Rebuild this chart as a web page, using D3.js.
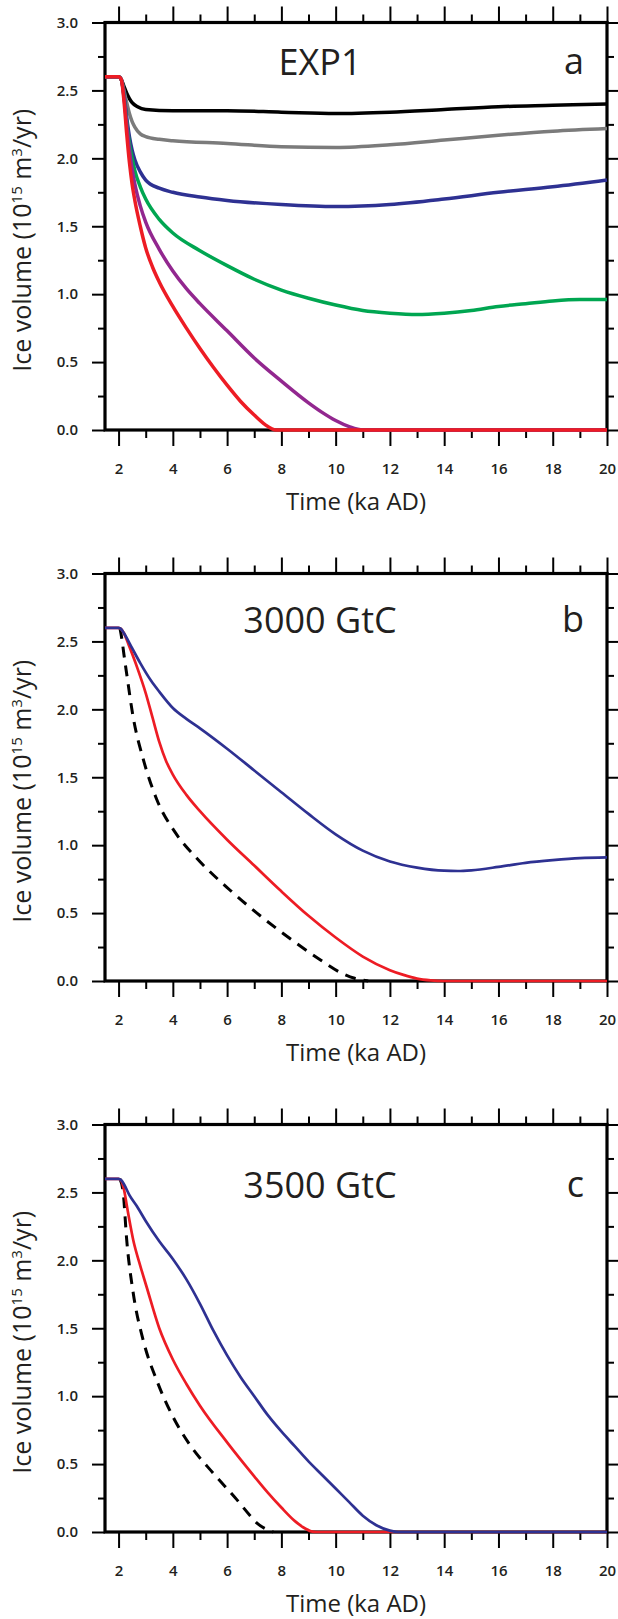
<!DOCTYPE html>
<html>
<head>
<meta charset="utf-8">
<script src="https://cdn.jsdelivr.net/npm/d3@7"></script>
<style>
  html, body { margin: 0; padding: 0; background: #fff; }
  svg { display: block; }
  text { font-family: "Open Sans", "Noto Sans", sans-serif; fill: #231f20; }
</style>
</head>
<body>
<svg id="chart" width="618" height="1619"></svg>
<script>
// ---------- data ----------
const xMajorTicks = [2, 4, 6, 8, 10, 12, 14, 16, 18, 20];
const xMinorTicks = [3, 5, 7, 9, 11, 13, 15, 17, 19];
const yMajorTicks = [0, 0.5, 1.0, 1.5, 2.0, 2.5, 3.0];
const yMinorTicks = [0.25, 0.75, 1.25, 1.75, 2.25, 2.75];

const panelTitles = ["EXP1", "3000 GtC", "3500 GtC"];
const panelLetters = ["a", "b", "c"];

// Panel a
const aBlackT = [1.5, 2.0, 2.1, 2.2, 2.3, 2.4, 2.5, 2.7, 3, 4, 6, 8, 10, 12, 14, 16, 18, 20];
const aBlackV = [2.6, 2.6, 2.58, 2.53, 2.48, 2.44, 2.41, 2.38, 2.36, 2.35, 2.35, 2.34, 2.33, 2.34, 2.36, 2.38, 2.39, 2.40];
const aGrayT = [1.5, 2.0, 2.1, 2.2, 2.3, 2.4, 2.5, 2.6, 2.8, 3, 3.5, 4, 6, 8, 10, 12, 14, 16, 18, 20];
const aGrayV = [2.6, 2.6, 2.58, 2.50, 2.41, 2.33, 2.27, 2.23, 2.18, 2.16, 2.14, 2.13, 2.11, 2.085, 2.08, 2.10, 2.135, 2.17, 2.20, 2.22];
const aBlueT = [1.5, 2.0, 2.1, 2.2, 2.3, 2.4, 2.5, 2.6, 2.8, 3, 3.5, 4, 5, 6, 8, 10, 12, 14, 16, 18, 20];
const aBlueV = [2.6, 2.6, 2.58, 2.47, 2.30, 2.16, 2.06, 1.99, 1.90, 1.84, 1.78, 1.75, 1.715, 1.69, 1.66, 1.645, 1.66, 1.70, 1.75, 1.79, 1.84];
const aGreenT = [1.5, 2.0, 2.1, 2.2, 2.3, 2.4, 2.5, 2.6, 2.8, 3, 3.5, 4, 5, 6, 7, 8, 9, 10, 11, 12, 13, 14, 15, 16, 17, 18, 19, 20];
const aGreenV = [2.6, 2.6, 2.58, 2.46, 2.27, 2.11, 2.00, 1.91, 1.79, 1.70, 1.55, 1.45, 1.32, 1.21, 1.11, 1.03, 0.97, 0.92, 0.88, 0.86, 0.85, 0.86, 0.88, 0.91, 0.93, 0.95, 0.96, 0.96];
const aPurpleT = [1.5, 2.0, 2.1, 2.2, 2.3, 2.4, 2.5, 2.6, 2.8, 3.0, 3.5, 4, 4.5, 5, 6, 7, 8, 9, 9.5, 10, 10.5, 11, 20];
const aPurpleV = [2.6, 2.6, 2.58, 2.45, 2.25, 2.06, 1.92, 1.81, 1.65, 1.53, 1.33, 1.17, 1.04, 0.93, 0.73, 0.53, 0.36, 0.20, 0.13, 0.07, 0.025, 0, 0];
const aRedT = [1.5, 2.0, 2.1, 2.2, 2.3, 2.4, 2.5, 2.6, 2.8, 3.0, 3.25, 3.5, 4, 4.5, 5, 5.5, 6, 6.5, 7, 7.4, 7.8, 20];
const aRedV = [2.6, 2.6, 2.58, 2.42, 2.18, 1.97, 1.81, 1.69, 1.50, 1.34, 1.20, 1.09, 0.91, 0.75, 0.60, 0.46, 0.33, 0.21, 0.11, 0.04, 0, 0];

// Panel b
const bBlueT = [1.5, 2.0, 2.1, 2.2, 2.5, 2.8, 3.2, 3.5, 4, 4.5, 5, 6, 7, 8, 9, 10, 11, 12, 13, 14, 14.5, 15, 16, 17, 18, 19, 20];
const bBlueV = [2.6, 2.6, 2.59, 2.56, 2.45, 2.34, 2.21, 2.13, 2.01, 1.93, 1.86, 1.71, 1.55, 1.39, 1.23, 1.08, 0.96, 0.88, 0.835, 0.812, 0.81, 0.815, 0.84, 0.87, 0.89, 0.905, 0.91];
const bRedT = [1.5, 2.0, 2.1, 2.2, 2.4, 2.7, 3.0, 3.25, 3.5, 3.75, 4, 4.5, 5, 6, 7, 8, 9, 10, 11, 12, 12.5, 13, 13.5, 14, 20];
const bRedV = [2.6, 2.6, 2.59, 2.56, 2.46, 2.30, 2.12, 1.94, 1.76, 1.62, 1.52, 1.37, 1.25, 1.04, 0.85, 0.66, 0.48, 0.32, 0.18, 0.08, 0.045, 0.018, 0.005, 0, 0];
const bDashT = [2.05, 2.12, 2.2, 2.3, 2.54, 2.9, 3.4, 4.1, 4.9, 6.1, 7.1, 8.4, 9.4, 10.2, 10.7, 11.2];
const bDashV = [2.6, 2.52, 2.40, 2.26, 1.94, 1.64, 1.34, 1.09, 0.90, 0.67, 0.50, 0.30, 0.16, 0.06, 0.02, 0];

// Panel c
const cBlueT = [1.5, 2.0, 2.1, 2.2, 2.4, 2.67, 3.0, 3.5, 4, 4.5, 5, 5.5, 6, 6.5, 7, 7.5, 8, 8.5, 9, 9.5, 10, 10.5, 11, 11.5, 12, 12.3, 20];
const cBlueV = [2.6, 2.6, 2.59, 2.56, 2.48, 2.40, 2.29, 2.14, 2.01, 1.86, 1.68, 1.48, 1.30, 1.14, 1.00, 0.86, 0.74, 0.63, 0.52, 0.42, 0.32, 0.22, 0.12, 0.05, 0.01, 0, 0];
const cRedT = [1.5, 2.0, 2.1, 2.2, 2.35, 2.54, 2.8, 3.04, 3.5, 4, 4.5, 5, 6, 7, 7.5, 8, 8.5, 8.8, 9.1, 9.3, 20];
const cRedV = [2.6, 2.6, 2.585, 2.52, 2.35, 2.15, 1.96, 1.80, 1.50, 1.27, 1.09, 0.93, 0.66, 0.41, 0.29, 0.18, 0.08, 0.035, 0.005, 0, 0];
const cDashT = [2.05, 2.17, 2.3, 2.54, 2.91, 3.4, 4.0, 4.6, 5.5, 6.35, 6.85, 7.1, 7.4, 7.7];
const cDashV = [2.6, 2.50, 2.15, 1.76, 1.41, 1.12, 0.85, 0.65, 0.43, 0.24, 0.12, 0.065, 0.025, 0];

// ---------- drawing ----------
const svg = d3.select("#chart");
const left = 105, right = 607, plotH = 407.5;
const tops = [22.5, 573.5, 1124.5];

const panels = [
  { series: [
      { t: aBlackT, v: aBlackV, color: "#000000" },
      { t: aGrayT, v: aGrayV, color: "#7b7b7b" },
      { t: aBlueT, v: aBlueV, color: "#2e3192" },
      { t: aGreenT, v: aGreenV, color: "#00a651" },
      { t: aPurpleT, v: aPurpleV, color: "#92278f" },
      { t: aRedT, v: aRedV, color: "#ed1c24" }
    ], width: 3.5, titleDy: 52 },
  { series: [
      { t: bDashT, v: bDashV, color: "#000000", dash: "11,8" },
      { t: bRedT, v: bRedV, color: "#ed1c24" },
      { t: bBlueT, v: bBlueV, color: "#2e3192" }
    ], width: 2.7, titleDy: 59 },
  { series: [
      { t: cDashT, v: cDashV, color: "#000000", dash: "11,8" },
      { t: cRedT, v: cRedV, color: "#ed1c24" },
      { t: cBlueT, v: cBlueV, color: "#2e3192" }
    ], width: 2.7, titleDy: 73 }
];

panels.forEach((p, i) => {
  const top = tops[i], bottom = top + plotH;
  const x = d3.scaleLinear().domain([1.5, 20]).range([left, right]);
  const y = d3.scaleLinear().domain([0, 3]).range([bottom, top]);
  const g = svg.append("g");

  function styleAxis(sel) {
    sel.select(".domain").remove();
    sel.selectAll(".tick line").attr("stroke", "#000").attr("stroke-width", 2);
  }

  // bottom
  g.append("g").attr("transform", `translate(0,${bottom})`)
    .call(d3.axisBottom(x).tickValues(xMajorTicks).tickSize(16).tickPadding(17.5).tickFormat(d3.format("d")))
    .call(styleAxis)
    .call(s => s.selectAll("text").attr("font-size", 15).attr("font-weight", 600)
      .attr("font-family", '"Open Sans", sans-serif').attr("fill", "#231f20"));
  g.append("g").attr("transform", `translate(0,${bottom})`)
    .call(d3.axisBottom(x).tickValues(xMinorTicks).tickSize(8).tickFormat(""))
    .call(styleAxis);
  // top
  g.append("g").attr("transform", `translate(0,${top})`)
    .call(d3.axisTop(x).tickValues(xMajorTicks).tickSize(16).tickFormat(""))
    .call(styleAxis);
  g.append("g").attr("transform", `translate(0,${top})`)
    .call(d3.axisTop(x).tickValues(xMinorTicks).tickSize(8).tickFormat(""))
    .call(styleAxis);
  // left
  g.append("g").attr("transform", `translate(${left},0)`)
    .call(d3.axisLeft(y).tickValues(yMajorTicks).tickSize(13).tickPadding(14).tickFormat(d3.format(".1f")))
    .call(styleAxis)
    .call(s => s.selectAll("text").attr("font-size", 15).attr("font-weight", 600)
      .attr("font-family", '"Open Sans", sans-serif').attr("fill", "#231f20"));
  g.append("g").attr("transform", `translate(${left},0)`)
    .call(d3.axisLeft(y).tickValues(yMinorTicks).tickSize(7).tickFormat(""))
    .call(styleAxis);
  // right
  g.append("g").attr("transform", `translate(${right},0)`)
    .call(d3.axisRight(y).tickValues(yMajorTicks).tickSize(11).tickFormat(""))
    .call(styleAxis);
  g.append("g").attr("transform", `translate(${right},0)`)
    .call(d3.axisRight(y).tickValues(yMinorTicks).tickSize(7).tickFormat(""))
    .call(styleAxis);

  // frame
  g.append("rect").attr("x", left).attr("y", top)
    .attr("width", right - left).attr("height", plotH)
    .attr("fill", "none").attr("stroke", "#000").attr("stroke-width", 3.2);

  // curves
  const line = d3.line().curve(d3.curveMonotoneX);
  p.series.forEach(s => {
    const pts = s.t.map((t, k) => [x(t), y(s.v[k])]);
    g.append("path").attr("d", line(pts))
      .attr("fill", "none").attr("stroke", s.color)
      .attr("stroke-width", s.dash ? 3 : p.width)
      .attr("stroke-linejoin", "round")
      .attr("stroke-dasharray", s.dash || null);
  });

  // titles
  g.append("text").attr("x", 320).attr("y", top + p.titleDy)
    .attr("text-anchor", "middle").attr("font-size", 36)
    .text(panelTitles[i]);
  g.append("text").attr("x", 584).attr("y", top + p.titleDy - 1)
    .attr("text-anchor", "end").attr("font-size", 36)
    .text(panelLetters[i]);

  // x-axis title
  g.append("text").attr("x", (left + right) / 2).attr("y", bottom + 80)
    .attr("text-anchor", "middle").attr("font-size", 24)
    .text("Time (ka AD)");

  // y-axis title
  const yt = g.append("text")
    .attr("transform", `translate(31,${(top + bottom) / 2 + 14}) rotate(-90)`)
    .attr("text-anchor", "middle").attr("font-size", 25);
  yt.append("tspan").text("Ice volume (10");
  yt.append("tspan").attr("font-size", 15).attr("dy", -9).text("15");
  yt.append("tspan").attr("dy", 9).text(" m");
  yt.append("tspan").attr("font-size", 15).attr("dy", -9).text("3");
  yt.append("tspan").attr("dy", 9).text("/yr)");
});
</script>
</body>
</html>
